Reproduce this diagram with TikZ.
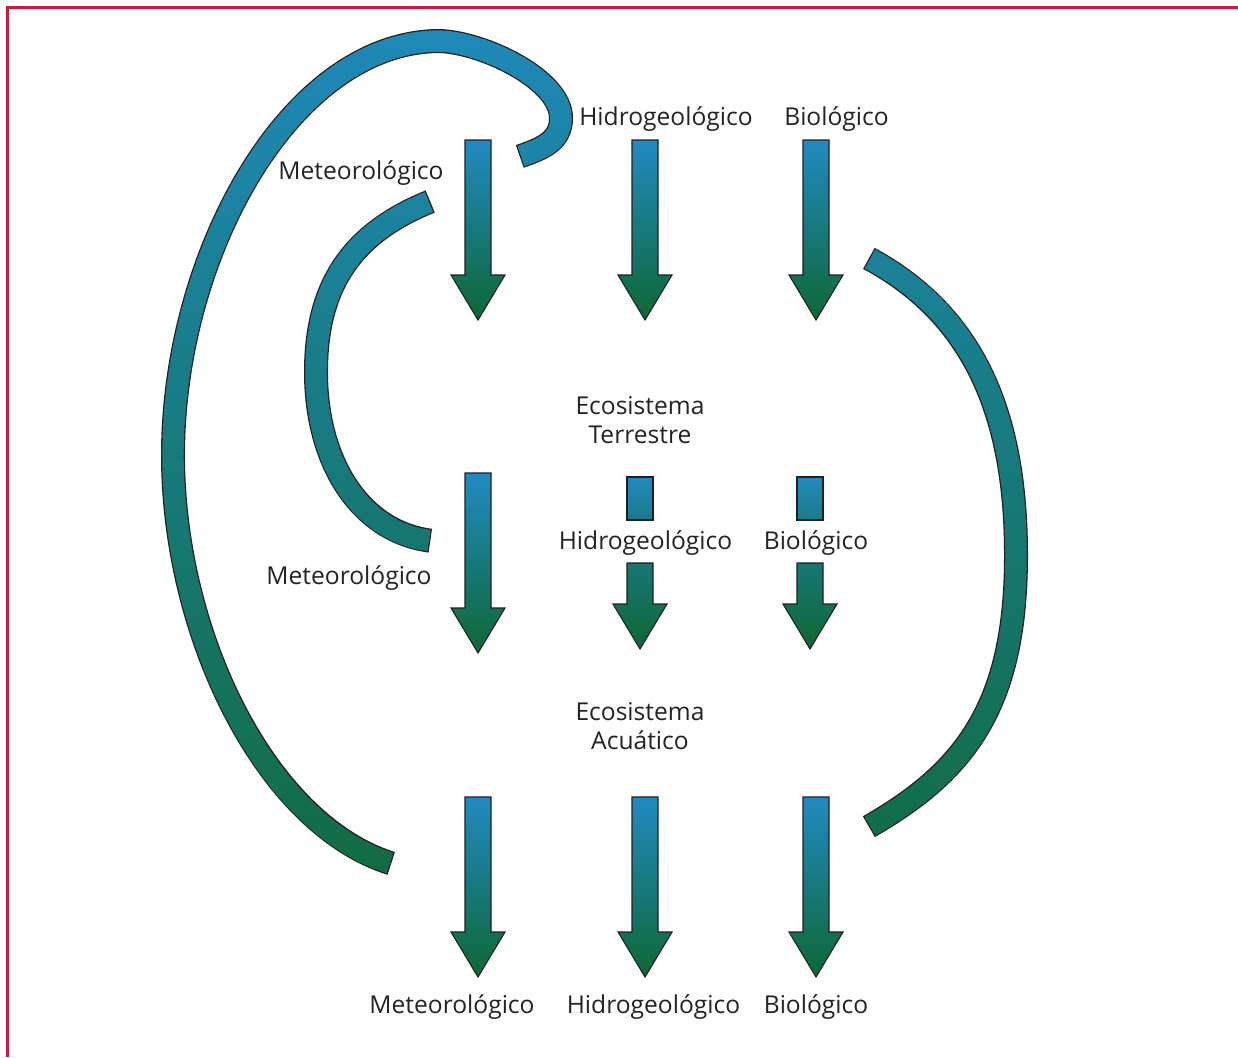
\documentclass[tikz,border=0pt]{standalone}
\usepackage{fontspec}
\setmainfont{Open Sans}
\definecolor{frame}{RGB}{200,26,62}
\definecolor{inkgray}{RGB}{38,34,35}
\definecolor{edge}{RGB}{35,31,32}
\definecolor{arrblue}{RGB}{33,138,194}
\definecolor{arrgreen}{RGB}{14,104,52}
\definecolor{bandblue}{RGB}{30,137,185}
\definecolor{bandgreen}{RGB}{17,108,66}

% centre lines of the three curved bands (pixel-like units, y downwards)
\def\loopband{(390,863) .. controls (266,824) and (173,635) .. (173,455)
  .. controls (173,255) and (290,41) .. (440,41)
  .. controls (485,43) and (561,80) .. (561,118)
  .. controls (561,140) and (544.5,148) .. (521,156)}
\def\leftband{(429,202) .. controls (355,232) and (316,282) .. (316,372)
  .. controls (316,462) and (360,531.5) .. (429,540.5)}
\def\rightband{(870,259) .. controls (968,312) and (1016,405) .. (1016,555)
  .. controls (1016,705) and (966,771) .. (870,826)}

% band with dark rim and a vertical blue-to-green gradient (drawn in strips)
\newcommand\gradband[3]{%
  \draw[line width=24, edge, shorten <=-1.3pt, shorten >=-1.3pt] #1;
  \pgfmathtruncatemacro\nstrips{(#3-#2)/6}
  \foreach \k in {0,...,\nstrips}{
    \pgfmathsetmacro\ya{#2+6*\k}
    \pgfmathsetmacro\f{max(0,min(100,(\ya+3-28)/8.48))}
    \begin{scope}
      \clip (0,\ya-0.7) rectangle (1238,\ya+6);
      \draw[line width=21.4, bandgreen!\f!bandblue] #1;
    \end{scope}
  }
}

% block arrow pointing down: centre x, top y, tip y, top colour, bottom colour
\newcommand\blockarrow[5]{%
  \shadedraw[top color=#4, bottom color=#5, draw=edge, line width=1.1]
    (#1-13,#2) -- (#1+13,#2) -- (#1+13,#3-45) -- (#1+27,#3-45) -- (#1,#3)
    -- (#1-27,#3-45) -- (#1-13,#3-45) -- cycle;
}
\newcommand\stubbox[1]{%
  \shadedraw[top color=arrblue, bottom color=arrgreen!42!arrblue, draw=edge, line width=1.1]
    (#1-13,477) rectangle (#1+13,520);
}

\begin{document}
\begin{tikzpicture}[x=1pt,y=-1pt,
  lbl/.style={font=\fontsize{24.6}{29}\selectfont, text=inkgray, inner sep=0pt, anchor=base}]
\useasboundingbox (0,0) rectangle (1238,1057);
\fill[white] (0,0) rectangle (1238,1057);
\draw[frame, line width=2.7] (7.3,1057) -- (7.3,7.3) -- (1238,7.3);

% curved feedback bands
\gradband{\loopband}{28}{876}
\gradband{\leftband}{188}{556}
\gradband{\rightband}{244}{842}

% top row
\blockarrow{478}{140}{320}{arrblue}{arrgreen}
\blockarrow{645}{140}{320}{arrblue}{arrgreen}
\blockarrow{816}{140}{320}{arrblue}{arrgreen}
% middle row
\blockarrow{478}{473}{653}{arrblue}{arrgreen}
\stubbox{640}
\stubbox{810}
\blockarrow{640}{563}{649}{arrgreen!55!arrblue}{arrgreen}
\blockarrow{810}{563}{649}{arrgreen!55!arrblue}{arrgreen}
% bottom row
\blockarrow{478}{797}{977}{arrblue}{arrgreen}
\blockarrow{645}{797}{977}{arrblue}{arrgreen}
\blockarrow{816}{797}{977}{arrblue}{arrgreen}

% labels
\node[lbl] (hidTop) at (666,125) {Hidrogeológico};
\node[lbl] (bioTop) at (836.5,125) {Biológico};
\node[lbl] (metTop) at (361,179) {Meteorológico};
\node[lbl, align=center] (terr) at (640,443) {Ecosistema\\Terrestre};
\node[lbl] (hidMid) at (645.5,549) {Hidrogeológico};
\node[lbl] (bioMid) at (816,549) {Biológico};
\node[lbl] (metMid) at (349,584) {Meteorológico};
\node[lbl, align=center] (acua) at (640,749) {Ecosistema\\Acuático};
\node[lbl] (metBot) at (452,1013) {Meteorológico};
\node[lbl] (hidBot) at (653.5,1013) {Hidrogeológico};
\node[lbl] (bioBot) at (816,1013) {Biológico};
\end{tikzpicture}
\end{document}
